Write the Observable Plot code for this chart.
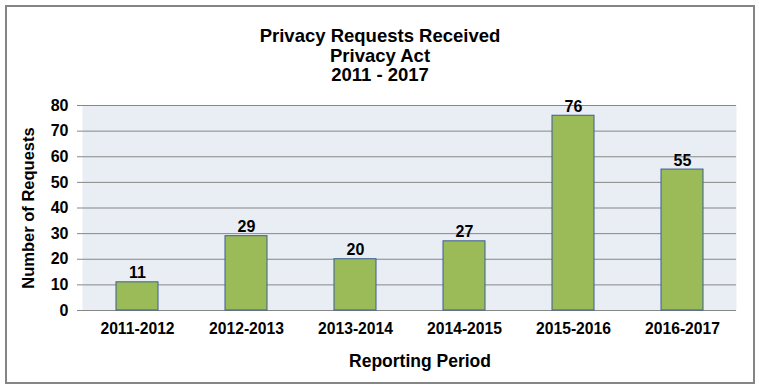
<!DOCTYPE html>
<html>
<head>
<meta charset="utf-8">
<script src="https://cdn.jsdelivr.net/npm/d3@7"></script>
<script src="https://cdn.jsdelivr.net/npm/@observablehq/plot@0.6"></script>
<style>
  html, body { margin: 0; padding: 0; background: #fff; }
  #wrap { position: relative; width: 759px; height: 388px; }
  #border { position: absolute; left: 5px; top: 5px; width: 746px; height: 375px; border: 2px solid #858585; pointer-events: none; }
  svg { font-family: "Liberation Sans", Arial, sans-serif; }
</style>
</head>
<body>
<div id="wrap"><div id="border"></div></div>
<script>
const periods = ["2011-2012", "2012-2013", "2013-2014", "2014-2015", "2015-2016", "2016-2017"];
const requests = [11, 29, 20, 27, 76, 55];
const yTicks = [0, 10, 20, 30, 40, 50, 60, 70, 80];
const titleLines = ["Privacy Requests Received", "Privacy Act", "2011 - 2017"];
const xTitle = "Reporting Period";
const yTitle = "Number of Requests";

const data = periods.map((p, i) => ({period: p, value: requests[i]}));
const titleDy = [-69, -49.5, -30];

const chart = Plot.plot({
  width: 759,
  height: 388,
  marginLeft: 82,
  marginRight: 23,
  marginTop: 105,
  marginBottom: 78,
  style: {fontFamily: "'Liberation Sans', Arial, sans-serif", background: "transparent"},
  x: {domain: periods, paddingInner: 0.615, paddingOuter: 0.3075, label: null},
  y: {domain: [0, 80], ticks: yTicks, label: null},
  marks: [
    Plot.frame({fill: "#E9EDF4", stroke: null}),
    Plot.gridY(yTicks, {stroke: "#878787", strokeOpacity: 1, strokeWidth: 1}),
    Plot.barY(data, {x: "period", y: "value", fill: "#9BBB59", stroke: "#3A5F8F", strokeWidth: 1}),
    Plot.ruleX([0], {frameAnchor: "left", stroke: "#878787"}),
    Plot.axisY({ticks: yTicks, tickSize: 5, tickPadding: 9, stroke: "#878787", fontSize: 16, fontWeight: "bold", fill: "#000", label: null}),
    Plot.axisX({tickSize: 0, tickPadding: 12, fontSize: 15.7, fontWeight: "bold", fill: "#000", label: null}),
    Plot.text(data, {x: "period", y: "value", text: d => String(d.value), lineAnchor: "middle", dy: -9, fontSize: 16, fontWeight: "bold", fill: "#000"}),
    ...titleLines.map((t, i) => Plot.text([t], {frameAnchor: "top", lineAnchor: "middle", textAnchor: "middle", dx: -29.5, dy: titleDy[i], fontSize: 18.5, fontWeight: "bold", fill: "#000"})),
    Plot.text([xTitle], {frameAnchor: "bottom", lineAnchor: "middle", textAnchor: "middle", dx: 10.5, dy: 50.5, fontSize: 17.5, fontWeight: "bold", fill: "#000"}),
    Plot.text([yTitle], {frameAnchor: "left", lineAnchor: "middle", textAnchor: "middle", rotate: -90, dx: -54, dy: 0, fontSize: 16.5, fontWeight: "bold", fill: "#000"}),
  ]
});
document.getElementById("wrap").prepend(chart);
</script>
</body>
</html>
